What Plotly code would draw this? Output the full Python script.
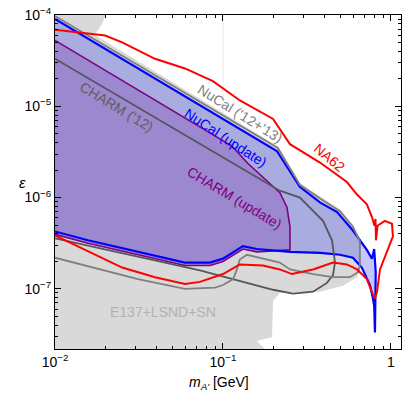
import plotly.graph_objects as go

# E137+LSND+SN (grey background region)
e137_m = [0.005, 0.005, 0.021, 0.0199, 0.0193, 0.0183, 0.0171, 0.2123, 0.287, 0.378, 0.497,
          0.594, 0.662, 0.662, 0.628, 0.5176, 0.378, 0.218, 0.1987, 0.1959, 0.159, 0.178, 0.19]
e137_eps = [1e-8, 2e-4, 2e-4, 1e-4, 8.43e-5, 7.10e-5, 6.12e-5, 3.66e-6, 1.44e-6, 1.03e-6, 7.45e-7,
            5.04e-7, 3.40e-7, 1.71e-7, 1.34e-7, 1.08e-7, 9.29e-8, 9.07e-8, 7.28e-8, 2.94e-8, 2.67e-8, 2.19e-8, 1e-8]

# NuCal (update)
nucal_new_m = [0.01, 0.2094, 0.287, 0.378, 0.478, 0.594, 0.719, 0.771, 0.795, 0.812, 0.8035,
               0.795, 0.782, 0.750, 0.671, 0.594, 0.497, 0.378, 0.251, 0.159, 0.1315, 0.100,
               0.0838, 0.0594, 0.0157, 0.01]
nucal_new_eps = [9.07e-5, 3.24e-6, 1.31e-6, 8.85e-7, 6.93e-7, 4.35e-7, 2.67e-7, 2.14e-7, 2.73e-7, 1.52e-7, 3.32e-8,
                 6.5e-8, 7.83e-8, 1.10e-7, 1.71e-7, 2.19e-7, 2.36e-7, 2.48e-7, 2.54e-7, 2.73e-7, 2.94e-7, 2.14e-7,
                 1.94e-7, 1.94e-7, 3.40e-7, 4.25e-7]

# CHARM (update)
charm_new_m = [0.01, 0.1132, 0.1409, 0.1905, 0.2182, 0.2404, 0.2506, 0.2506, 0.159, 0.1315,
               0.100, 0.0838, 0.0594, 0.0157, 0.01]
charm_new_eps = [5.28e-5, 3.66e-6, 2.36e-6, 1.44e-6, 1.13e-6, 7.83e-7, 4.79e-7, 2.67e-7, 2.54e-7, 2.73e-7,
                 1.99e-7, 1.80e-7, 1.80e-7, 3.16e-7, 3.95e-7]

# CHARM ('12)
charm12_m = [0.01, 0.218, 0.287, 0.344, 0.394, 0.446, 0.4645, 0.452, 0.416, 0.344, 0.261,
             0.199, 0.1315, 0.073, 0.01]
charm12_eps = [3.32e-5, 1.19e-6, 1.00e-6, 7.10e-7, 5.55e-7, 3.40e-7, 1.94e-7, 1.41e-7, 1.16e-7, 9.29e-8, 8.85e-8,
               9.76e-8, 1.19e-7, 1.59e-7, 3.57e-7]

# NuCal ('12+'13)
nucal_old_m = [0.01, 0.2123, 0.287, 0.378, 0.497, 0.594, 0.653, 0.653, 0.637, 0.570, 0.452,
               0.344, 0.251, 0.218, 0.139, 0.126, 0.121, 0.115, 0.100, 0.0896, 0.0594, 0.0312, 0.01]
nucal_old_eps = [9.76e-5, 3.49e-6, 1.38e-6, 9.76e-7, 7.10e-7, 4.79e-7, 3.32e-7, 1.80e-7, 1.52e-7, 1.34e-7, 1.34e-7,
                 1.45e-7, 1.63e-7, 1.94e-7, 2.36e-7, 2.09e-7, 1.63e-7, 1.28e-7, 1.10e-7, 1.03e-7, 1.00e-7, 1.28e-7, 2.19e-7]

# NA62 projection
na62_m = [0.01, 0.0199, 0.0251, 0.0394, 0.0594, 0.0871, 0.1262, 0.1987, 0.2506, 0.378, 0.547,
          0.628, 0.719, 0.771, 0.798, 0.809, 0.815, 0.832, 0.920, 1.014, 1.028, 0.946, 0.861,
          0.826, 0.8035, 0.782, 0.719, 0.628, 0.547, 0.452, 0.344, 0.2577, 0.218, 0.173, 0.126,
          0.100, 0.073, 0.0594, 0.0394, 0.0251, 0.0157, 0.01]
na62_eps = [6.92e-5, 5.98e-5, 5.03e-5, 3.32e-5, 2.60e-5, 1.89e-5, 1.16e-5, 7.28e-6, 3.85e-6, 2.42e-6, 1.48e-6,
            1.08e-6, 8.43e-7, 6.12e-7, 4.91e-7, 5.83e-7, 3.40e-7, 4.91e-7, 5.55e-7, 5.16e-7, 3.75e-7, 2.48e-7, 1.63e-7,
            9.29e-8, 7.83e-8, 8.63e-8, 1.28e-7, 1.63e-7, 1.85e-7, 1.94e-7, 1.63e-7, 1.45e-7, 1.63e-7, 1.80e-7, 1.85e-7,
            1.45e-7, 1.19e-7, 1.13e-7, 1.34e-7, 1.71e-7, 2.60e-7, 3.85e-7]

x_ticks = [0.01, 0.1, 1]
x_ticktext = ['10<sup>−2</sup>', '10<sup>−1</sup>', '1']
y_ticks = [1e-7, 1e-6, 1e-5, 1e-4]
y_ticktext = ['10<sup>−7</sup>', '10<sup>−6</sup>', '10<sup>−5</sup>', '10<sup>−4</sup>']
x_minor = [k * 10.0 ** e for e in (-2, -1) for k in range(2, 10)]
y_minor = [k * 10.0 ** e for e in (-8, -7, -6, -5) for k in range(2, 10)]

fig = go.Figure()

# background region
fig.add_trace(go.Scatter(x=e137_m, y=e137_eps, mode='lines', fill='toself',
                         fillcolor='rgb(217,217,217)', line=dict(width=0), hoverinfo='skip'))
# NuCal update fill
fig.add_trace(go.Scatter(x=nucal_new_m, y=nucal_new_eps, mode='lines', fill='toself',
                         fillcolor='rgba(60,70,240,0.3)', line=dict(width=0), hoverinfo='skip'))
# CHARM update fill + outline
fig.add_trace(go.Scatter(x=charm_new_m, y=charm_new_eps, mode='lines', fill='toself',
                         fillcolor='rgb(156,136,206)', line=dict(color='rgb(128,0,128)', width=1.6)))
# NuCal update outline
fig.add_trace(go.Scatter(x=nucal_new_m, y=nucal_new_eps, mode='lines',
                         line=dict(color='rgb(0,0,255)', width=2.2)))
# CHARM '12 outline
fig.add_trace(go.Scatter(x=charm12_m, y=charm12_eps, mode='lines',
                         line=dict(color='rgb(85,85,95)', width=1.8)))
# NuCal '12+'13 outline
fig.add_trace(go.Scatter(x=nucal_old_m, y=nucal_old_eps, mode='lines',
                         line=dict(color='rgb(128,128,128)', width=1.8)))
# NA62
fig.add_trace(go.Scatter(x=na62_m, y=na62_eps, mode='lines',
                         line=dict(color='rgb(255,0,0)', width=2)))

fnt = 'Liberation Sans, Arial, sans-serif'
labels = [
    # text, log10 m, log10 eps, angle, colour
    ("CHARM ('12)", -1.631, -5.011, 31, 'rgb(95,95,95)'),
    ("NuCal ('12+'13)", -0.893, -5.08, 32, 'rgb(128,128,128)'),
    ("NuCal (update)", -0.982, -5.35, 33, 'rgb(0,0,255)'),
    ("CHARM (update)", -0.929, -6.0, 31, 'rgb(128,0,128)'),
    ("NA62", -0.363, -5.564, 40, 'rgb(255,0,0)'),
    ("E137+LSND+SN", -1.357, -7.255, 0, 'rgb(178,178,178)'),
]
for txt, lx, ly, ang, col in labels:
    fig.add_annotation(x=lx, y=ly, xref='x', yref='y', text=txt, showarrow=False,
                       textangle=ang, font=dict(size=14, color=col, family=fnt))

fig.add_annotation(xref='paper', yref='paper', x=0.475, y=-0.102, xanchor='center', yanchor='middle',
                   text='<i>m</i><sub><i>A\'</i></sub> [GeV]',
                   showarrow=False, font=dict(size=14, color='black', family=fnt))
fig.add_annotation(xref='paper', yref='paper', x=-0.095, y=0.5, xanchor='center', yanchor='middle',
                   text='<i>ε</i>',
                   showarrow=False, font=dict(size=15, color='black', family=fnt))

fig.add_shape(type='line', xref='x', yref='paper', x0=0.1, x1=0.1, y0=0, y1=1,
              line=dict(color='rgb(235,235,235)', width=1), layer='below')

axis_common = dict(type='log', showline=True, linecolor='black', linewidth=1, mirror='allticks',
                   ticks='inside', ticklen=6, tickcolor='black', showgrid=False, zeroline=False,
                   ticklabeloverflow='allow',
                   tickfont=dict(size=14, color='black', family=fnt))
fig.update_xaxes(range=[-2, 0.06], tickvals=x_ticks, ticktext=x_ticktext,
                 minor=dict(ticks='inside', ticklen=3, tickcolor='black', tickvals=x_minor), **axis_common)
fig.update_yaxes(range=[-7.66, -3.999], tickvals=y_ticks, ticktext=y_ticktext,
                 minor=dict(ticks='inside', ticklen=3, tickcolor='black', tickvals=y_minor), **axis_common)

fig.update_layout(width=407, height=401, margin=dict(l=55, r=6, t=5, b=52),
                  plot_bgcolor='white', paper_bgcolor='white', showlegend=False)

fig.write_html("out.html", config={'displayModeBar': False},
               post_script="document.body.style.margin='0';")
